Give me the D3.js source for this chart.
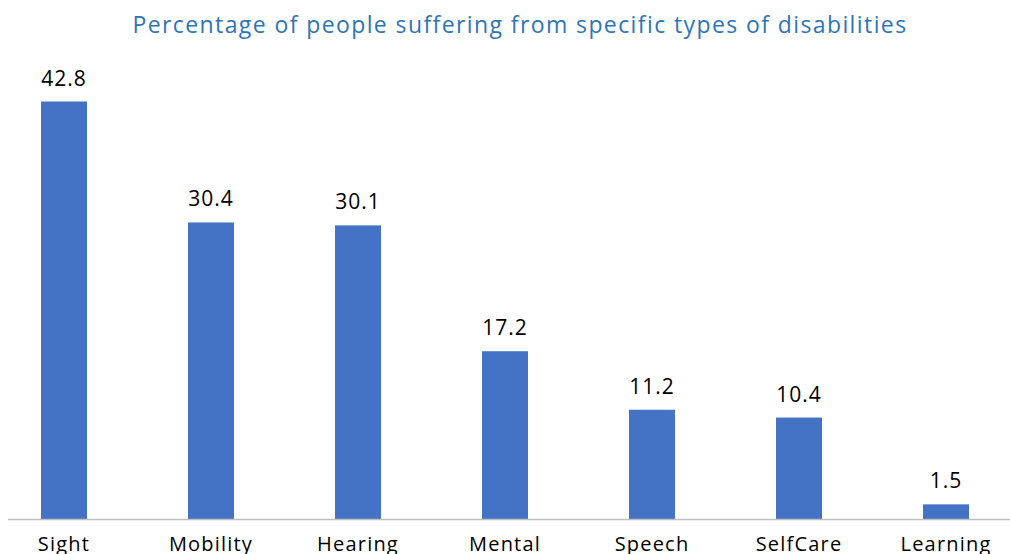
<!DOCTYPE html>
<html>
<head>
<meta charset="utf-8">
<script src="https://cdn.jsdelivr.net/npm/d3@7"></script>
<style>
  body { margin: 0; background: #fff; }
  svg { display: block; font-family: "Open Sans", sans-serif; }
</style>
</head>
<body>
<svg id="chart"></svg>
<script>
var categories = ["Sight", "Mobility", "Hearing", "Mental", "Speech", "SelfCare", "Learning"]
var values = [42.8, 30.4, 30.1, 17.2, 11.2, 10.4, 1.5]
var title = "Percentage of people suffering from specific types of disabilities"

var dimensions = {
    width: 1010,
    height: 554,
    axisY: 519,
    top: 101.5
}

var svg = d3.select("#chart")
    .attr("width", dimensions.width)
    .attr("height", dimensions.height)

var xScale = d3.scaleBand()
    .domain(categories)
    .range([-9.5, 1019.5])
    .paddingInner(0.687)
    .paddingOuter(0.3435)

var yScale = d3.scaleLinear()
    .domain([0, 42.8])
    .range([dimensions.axisY, dimensions.top])

// title
svg.append("text")
    .attr("x", 520)
    .attr("y", 33)
    .attr("text-anchor", "middle")
    .style("font-size", "23px")
    .style("letter-spacing", "1.4px")
    .style("fill", "#2e75b6")
    .text(title)

// bars
svg.selectAll("rect.bar")
    .data(values)
    .enter()
    .append("rect")
    .attr("class", "bar")
    .attr("x", (d, i) => xScale(categories[i]))
    .attr("width", xScale.bandwidth())
    .attr("y", d => yScale(d))
    .attr("height", d => yScale(0) - yScale(d))
    .style("fill", "#4472c4")

// value labels
svg.selectAll("text.val")
    .data(values)
    .enter()
    .append("text")
    .attr("class", "val")
    .attr("x", (d, i) => xScale(categories[i]) + xScale.bandwidth() / 2)
    .attr("y", d => yScale(d) - 16)
    .attr("text-anchor", "middle")
    .style("font-size", "21px")
    .style("letter-spacing", "1px")
    .style("fill", "#000")
    .text(d => d.toFixed(1))

// x axis
var xAxis = svg.append("g")
    .attr("transform", `translate(0,${dimensions.axisY})`)
    .call(d3.axisBottom(xScale).tickSize(0).tickPadding(18))

xAxis.select(".domain")
    .attr("d", "M8,0.5H1010")
    .style("stroke", "#bfbfbf")
    .style("stroke-width", 1.5)

xAxis.selectAll("text")
    .style("font-family", "Open Sans, sans-serif")
    .style("font-size", "20px")
    .style("letter-spacing", "1.2px")
    .style("fill", "#000")
</script>
</body>
</html>
